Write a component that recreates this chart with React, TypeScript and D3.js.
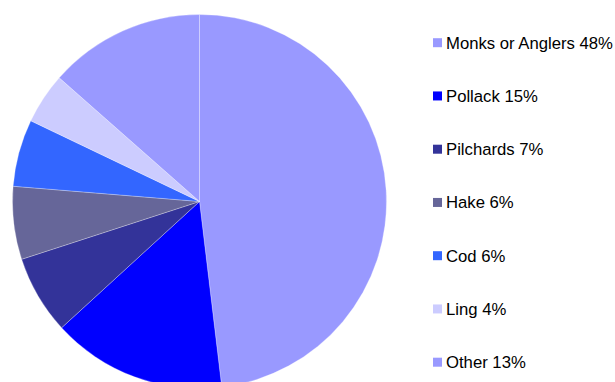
import React from "react";
import * as d3 from "d3";

const categories = ["Monks or Anglers", "Pollack", "Pilchards", "Hake", "Cod", "Ling", "Other"];
const values = [48.1, 15.1, 6.8, 6.3, 5.8, 4.4, 13.5];
const labels = ["Monks or Anglers 48%", "Pollack 15%", "Pilchards 7%", "Hake 6%", "Cod 6%", "Ling 4%", "Other 13%"];
const colors = ["#9999FF", "#0000FF", "#333399", "#666699", "#3366FF", "#CCCCFF", "#9999FF"];

const W = 615;
const H = 382;

export default function App() {
  const cx = 199.5;
  const cy = 201.5;
  const r = 187;
  const pie = d3.pie<number>().sort(null).value((d) => d)(values);
  const arc = d3.arc<d3.PieArcDatum<number>>().innerRadius(0).outerRadius(r);

  const legendY = d3.scalePoint<number>().domain(d3.range(categories.length)).range([42.7, 362.2]);

  return (
    <div style={{ position: "fixed", left: 0, top: 0 }}>
      <svg width={W} height={H} style={{ display: "block", background: "#fff" }}>
        <g transform={`translate(${cx},${cy})`}>
          {pie.map((p, i) => (
            <path key={i} d={arc(p) || ""} fill={colors[i]} stroke="#ffffff" strokeOpacity={0.35} strokeWidth={0.8} />
          ))}
        </g>
        <g>
          {categories.map((c, i) => {
            const y = legendY(i) as number;
            return (
              <g key={c}>
                <rect x={433} y={y - 4.5} width={9} height={9} fill={colors[i]} />
                <text x={446} y={y + 5.8} fontFamily="Liberation Sans, Arial, sans-serif" fontSize={16.7} fill="#000">
                  {labels[i]}
                </text>
              </g>
            );
          })}
        </g>
      </svg>
    </div>
  );
}
